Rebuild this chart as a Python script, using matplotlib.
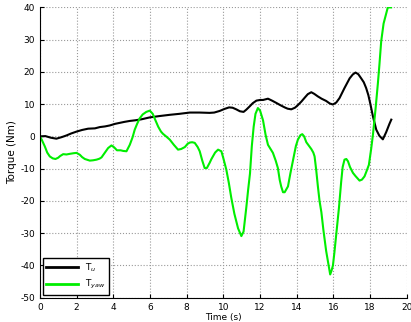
import matplotlib
matplotlib.use('Agg')
import matplotlib.pyplot as plt

plt.rcParams['axes.unicode_minus'] = False

# control torque T_u
t_u = [0, 0.3, 0.6, 0.9, 1.2, 1.45, 1.7, 2.0, 2.3, 2.63, 3.0, 3.27, 3.55, 3.81,
       4.1, 4.35, 4.6, 4.9, 5.2, 5.53, 5.99, 6.5, 7.08, 7.6, 8.17, 8.7, 9.25,
       9.5, 9.8, 10.05, 10.31, 10.5, 10.7, 10.9, 11.1, 11.25, 11.43, 11.6, 11.8,
       12.0, 12.16, 12.43, 12.65, 12.88, 13.1, 13.34, 13.5, 13.7, 13.9, 14.06,
       14.25, 14.43, 14.6, 14.79, 14.95, 15.15, 15.35, 15.6, 15.8, 15.97, 16.15,
       16.33, 16.6, 16.88, 17.05, 17.2, 17.35, 17.51, 17.65, 17.78, 17.9, 18.0,
       18.15, 18.33, 18.5, 18.69, 18.87, 19.05, 19.15]
T_u = [0, 0.1, -0.4, -0.7, -0.2, 0.3, 0.9, 1.5, 2.0, 2.4, 2.5, 2.9, 3.1, 3.4,
       3.9, 4.2, 4.5, 4.8, 5.0, 5.3, 5.9, 6.3, 6.7, 7.0, 7.4, 7.4, 7.3,
       7.4, 7.9, 8.5, 9.0, 8.9, 8.4, 7.8, 7.6, 8.3, 9.3, 10.3, 11.1,
       11.3, 11.3, 11.7, 11.1, 10.4, 9.7, 9.0, 8.6, 8.4, 8.9, 9.7,
       10.8, 12.0, 13.1, 13.7, 13.2, 12.4, 11.7, 11.0, 10.2, 9.9, 10.5,
       11.9, 15.0, 18.0, 19.2, 19.8, 19.3, 18.0, 16.8, 15.0, 12.8, 10.3,
       6.2, 2.1, 0.2, -0.9, 1.3, 3.9, 5.2]

# yaw torque T_yaw
t_yaw = [0, 0.1, 0.27, 0.4, 0.54, 0.7, 0.85, 1.0, 1.1, 1.27, 1.45, 1.63, 1.85,
         2.0, 2.18, 2.3, 2.45, 2.72, 2.9, 3.09, 3.25, 3.36, 3.55, 3.72, 3.9,
         4.05, 4.2, 4.4, 4.54, 4.72, 4.9, 5.05, 5.17, 5.3, 5.44, 5.6, 5.8,
         5.99, 6.15, 6.26, 6.45, 6.6, 6.71, 6.9, 7.08, 7.3, 7.53, 7.7, 7.9,
         8.05, 8.17, 8.3, 8.44, 8.6, 8.71, 8.85, 8.98, 9.1, 9.25, 9.35, 9.55,
         9.71, 9.89, 10.0, 10.16, 10.3, 10.43, 10.6, 10.8, 10.98, 11.1, 11.25,
         11.35, 11.45, 11.55, 11.65, 11.75, 11.88, 12.0, 12.16, 12.3, 12.43,
         12.7, 12.85, 12.97, 13.07, 13.15, 13.25, 13.34, 13.52, 13.65, 13.79,
         13.95, 14.06, 14.2, 14.3, 14.4, 14.52, 14.65, 14.79, 14.9, 14.97,
         15.06, 15.15, 15.24, 15.34, 15.45, 15.6, 15.72, 15.82, 15.9, 15.97,
         16.05, 16.15, 16.3, 16.42, 16.5, 16.6, 16.7, 16.79, 16.9, 17.06, 17.2,
         17.42, 17.55, 17.69, 17.8, 17.93, 18.05, 18.15, 18.3, 18.42, 18.5,
         18.6, 18.73, 18.87, 18.96, 19.14]
T_yaw = [0, -1.0, -3.1, -5.0, -6.2, -6.8, -7.0, -6.6, -6.1, -5.5, -5.6, -5.4, -5.2,
         -5.1, -5.7, -6.4, -7.0, -7.5, -7.4, -7.2, -6.9, -6.5, -5.0, -3.6, -2.8,
         -3.4, -4.3, -4.3, -4.5, -4.6, -2.6, -0.3, 2.1, 3.9, 5.6, 6.8, 7.6,
         8.0, 7.0, 5.5, 3.0, 1.5, 0.8, -0.1, -1.0, -2.6, -4.1, -3.9, -3.3,
         -2.3, -1.9, -1.8, -2.0, -3.3, -4.6, -7.5, -9.8, -9.8, -8.2, -7.0, -5.0,
         -4.1, -4.6, -6.8, -10.3, -14.5, -19.0, -24.0, -28.5, -30.9, -29.5, -22.0,
         -16.5, -11.5, -3.0, 3.0, 7.0, 8.8, 8.0, 5.0, 0.5, -2.6,
         -5.1, -7.5, -9.8, -13.5, -15.5, -17.3, -17.3, -15.5, -11.5, -7.5,
         -3.0, -1.0, 0.4, 0.7, 0.0, -1.8, -2.8, -3.9, -5.0, -6.2,
         -10.5, -15.5, -20.0, -23.5, -29.0, -35.5, -39.5, -42.8, -41.5, -40.0,
         -36.0, -30.5, -22.0, -14.0, -9.5, -7.2, -7.0, -7.7, -9.5, -11.3, -12.3,
         -13.7, -13.4, -12.4, -10.8, -8.8, -4.0, 0.5, 9.0, 16.5, 22.0,
         29.5, 35.0, 38.0, 40.0, 40.0]

fig = plt.figure(figsize=(4.11, 3.22), dpi=100)
ax = fig.add_axes([0.097, 0.0755, 0.893, 0.9015])

ax.plot(t_u, T_u, color='black', linewidth=1.5, label='T$_u$')
ax.plot(t_yaw, T_yaw, color='#00ee00', linewidth=1.5, label='T$_{yaw}$')

ax.set_xlim(0, 20)
ax.set_ylim(-50, 40)
ax.set_xticks(range(0, 21, 2))
ax.set_yticks(range(-50, 41, 10))
ax.grid(True, linestyle=':', color='#999999', linewidth=0.8)
ax.tick_params(direction='in', labelsize=6.5, length=3, width=0.8)
for s in ['top', 'right']:
    ax.spines[s].set_visible(False)
for s in ['left', 'bottom']:
    ax.spines[s].set_linewidth(0.8)

ax.set_xlabel('Time (s)', fontsize=6.5, labelpad=1)
ax.set_ylabel('Torque (Nm)', fontsize=7.5, labelpad=2)

leg = ax.legend(loc='lower left', fontsize=6.5, fancybox=False, framealpha=1,
                edgecolor='black', borderaxespad=0.3, handlelength=3.5,
                borderpad=0.4, labelspacing=0.5)
leg.get_frame().set_linewidth(1.0)
for line in leg.get_lines():
    line.set_linewidth(2.0)

fig.savefig('out.png', dpi=100)
